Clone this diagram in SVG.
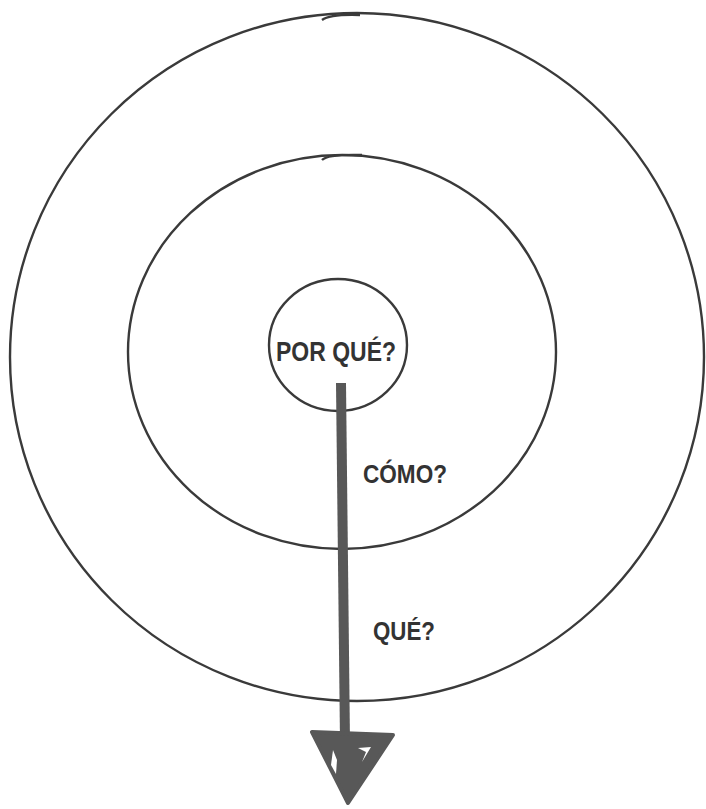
<svg xmlns="http://www.w3.org/2000/svg" width="706" height="809" viewBox="0 0 706 809">
<style>
.ring{fill:none;stroke:#3a3a3a;stroke-width:2.4}
.lbl{font-family:"Liberation Sans",sans-serif;font-weight:bold;fill:#333}
.arrow{stroke:#585858;stroke-width:10;fill:none;stroke-linecap:butt}
</style>
<rect width="706" height="809" fill="#fff"/>
<g id="outer">
<ellipse class="ring" cx="357" cy="357" rx="347" ry="344"/>
<path class="ring" d="M322 20 Q330 14 360 15" />
</g>
<g id="middle">
<ellipse class="ring" cx="342" cy="352" rx="214" ry="197"/>
<path class="ring" d="M322 160 Q328 154 362 155" />
</g>
<g id="inner">
<ellipse class="ring" cx="338" cy="345" rx="69" ry="66"/>
<text class="lbl" x="336" y="361" font-size="28" text-anchor="middle" textLength="120" lengthAdjust="spacingAndGlyphs">POR QUÉ?</text>
</g>
<g id="connectors">
<path class="arrow" d="M341 383 L345 742"/>
<polygon points="312,732 393,735 348,803" fill="#585858" stroke="#585858" stroke-width="4" stroke-linejoin="round"/>
<path d="M333 750 L337 760 L336 774 L331 765 Z" fill="#fff"/>
<path d="M358 748 L371 747 L362 762 L366 752 Z" fill="#fff"/>
</g>
<g id="labels">
<text class="lbl" x="363" y="483" font-size="25" textLength="84" lengthAdjust="spacingAndGlyphs">CÓMO?</text>
<text class="lbl" x="373" y="640" font-size="25" textLength="62" lengthAdjust="spacingAndGlyphs">QUÉ?</text>
</g>
</svg>
